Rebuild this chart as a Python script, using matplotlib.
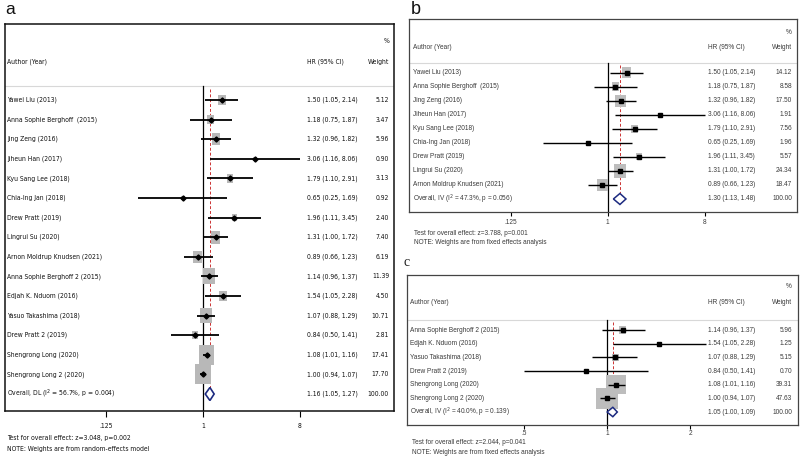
import matplotlib
matplotlib.use('Agg')
import matplotlib.pyplot as plt
import numpy as np
from matplotlib import font_manager as fm
from matplotlib.font_manager import FontProperties
from matplotlib.patches import Rectangle, Polygon
from matplotlib.transforms import blended_transform_factory
from matplotlib.ticker import NullLocator, FixedLocator, FixedFormatter

# ---------------- data ----------------
authors_a = ["Yawei Liu (2013)", "Anna Sophie Berghoff  (2015)", "Jing Zeng (2016)",
             "Jiheun Han (2017)", "Kyu Sang Lee (2018)", "Chia-Ing Jan (2018)",
             "Drew Pratt (2019)", "Lingrui Su (2020)", "Arnon Moldrup Knudsen (2021)",
             "Anna Sophie Berghoff 2 (2015)", "Edjah K. Nduom (2016)", "Yasuo Takashima (2018)",
             "Drew Pratt 2 (2019)", "Shengrong Long (2020)", "Shengrong Long 2 (2020)"]
hr_a = [1.50, 1.18, 1.32, 3.06, 1.79, 0.65, 1.96, 1.31, 0.89, 1.14, 1.54, 1.07, 0.84, 1.08, 1.00]
lo_a = [1.05, 0.75, 0.96, 1.16, 1.10, 0.25, 1.11, 1.00, 0.66, 0.96, 1.05, 0.88, 0.50, 1.01, 0.94]
hi_a = [2.14, 1.87, 1.82, 8.06, 2.91, 1.69, 3.45, 1.72, 1.23, 1.37, 2.28, 1.29, 1.41, 1.16, 1.07]
wt_a = [5.12, 3.47, 5.96, 0.90, 3.13, 0.92, 2.40, 7.40, 6.19, 11.39, 4.50, 10.71, 2.81, 17.41, 17.70]
overall_a = (1.16, 1.05, 1.27)
overall_label_a = "Overall, DL (I$^2$ = 56.7%, p = 0.004)"
test_a = "Test for overall effect: z=3.048, p=0.002"
note_a = "NOTE: Weights are from random-effects model"

authors_b = authors_a[:9]
hr_b = hr_a[:9]
lo_b = lo_a[:9]
hi_b = hi_a[:9]
wt_b = [14.12, 8.58, 17.50, 1.91, 7.56, 1.96, 5.57, 24.34, 18.47]
overall_b = (1.30, 1.13, 1.48)
overall_label_b = "Overall, IV (I$^2$ = 47.3%, p = 0.056)"
test_b = "Test for overall effect: z=3.788, p=0.001"
note_b = "NOTE: Weights are from fixed effects analysis"

authors_c = authors_a[9:]
hr_c = hr_a[9:]
lo_c = lo_a[9:]
hi_c = hi_a[9:]
wt_c = [5.96, 1.25, 5.15, 0.70, 39.31, 47.63]
overall_c = (1.05, 1.00, 1.09)
overall_label_c = "Overall, IV (I$^2$ = 40.0%, p = 0.139)"
test_c = "Test for overall effect: z=2.044, p=0.041"
note_c = "NOTE: Weights are from fixed effects analysis"

ticks_ab = [0.125, 1, 8]
ticklabels_ab = [".125", "1", "8"]
ticks_c = [0.5, 1, 2]
ticklabels_c = [".5", "1", "2"]

# ---------------- layout ----------------
W, H = 800, 459
fig = plt.figure(figsize=(W / 100, H / 100), dpi=100)
fig.patch.set_facecolor('white')
renderer = fig.canvas.get_renderer()


def find_narrow():
    prefs = ['liberation sans narrow', 'arial narrow', 'dejavu sans condensed',
             'dejavusanscondensed', 'notosans-condensed', 'noto sans condensed',
             'opensans-condensed', 'open sans condensed', 'roboto condensed',
             'robotocondensed', 'narrow', 'condensed']
    cands = []
    for f in fm.fontManager.ttflist:
        key = (f.name + ' ' + f.fname.split('/')[-1]).lower()
        if f.style != 'normal':
            continue
        for rank, p in enumerate(prefs):
            if p in key and not any(b in key for b in
                                    ('bold', 'italic', 'semi', 'extra', 'light',
                                     'medium', 'black', 'thin')):
                cands.append((rank, f.fname))
                break
    if cands:
        cands.sort()
        return FontProperties(fname=cands[0][1])
    return FontProperties(family=['Liberation Sans', 'DejaVu Sans'])


def fit_size(fp, sample, target_px):
    p = fp.copy()
    p.set_size(10)
    t = fig.text(0, 0, sample, fontproperties=p)
    wpx = t.get_window_extent(renderer).width
    t.remove()
    return 10 * target_px / wpx


SAMPLE = "Anna Sophie Berghoff  (2015)"
fp_a = find_narrow()
fp_a.set_size(min(6.6, fit_size(fp_a, SAMPLE, 91)))
fp_b = FontProperties(family=['Liberation Sans', 'DejaVu Sans'])
fp_b.set_size(fit_size(fp_b, SAMPLE, 87))

LA = dict(box=(5, 24, 394, 411), x1=203, ppd=32.3, row0=100, sp=19.6,
          hdr=62, pct=41, sep=86, ax=7, hx=307, wx=389,
          fp=fp_a, tc='#111111', kw=3.6, kh=4.8, lw=1.3,
          mk='D', ms=2.6, dh=6.5, dlw=1.2, frame='#111111', flw=1.1,
          tl=4.5, tp=4.5, tx=7, ty1=438, ty2=449, grey='#b8b8b8')
LB = dict(box=(409, 19, 797, 212), x1=607.7, ppd=32.3, row0=72.7, sp=14.03,
          hdr=47, pct=32, sep=63, ax=413, hx=708, wx=792,
          fp=fp_b, tc='#3a3a3a', kw=2.5, kh=2.9, lw=1.0,
          mk='s', ms=2.2, dh=5.5, dlw=1.1, frame='#444444', flw=0.9,
          tl=3.2, tp=1.5, tx=414, ty1=234, ty2=243, grey='#bdbdbd')
LC = dict(box=(407, 275, 798, 425), x1=607, ppd=83, row0=330, sp=13.67,
          hdr=302, pct=287, sep=320, ax=410, hx=708, wx=792,
          fp=fp_b, tc='#3a3a3a', kw=3.1, kh=3.1, lw=1.0,
          mk='s', ms=2.2, dh=4.7, dlw=1.1, frame='#444444', flw=0.9,
          tl=3.0, tp=0.3, tx=412, ty1=443, ty2=452, grey='#bdbdbd')


def panel(L, authors, hr, lo, hi, wt, ovr, ovlabel, ticks, ticklabels, test, note):
    left, top, right, bottom = L['box']
    ax = fig.add_axes([left / W, 1 - bottom / H, (right - left) / W, (bottom - top) / H])
    ax.set_xscale('log', base=2)
    x1, ppd = L['x1'], L['ppd']
    ax.set_xlim(2 ** ((left - x1) / ppd), 2 ** ((right - x1) / ppd))
    r0, sp = L['row0'], L['sp']

    def yrow(py):
        return (py - r0) / sp

    yb, yt = yrow(bottom), yrow(top)
    ax.set_ylim(yb, yt)
    tb = blended_transform_factory(ax.transAxes, ax.transData)

    def xf(px):
        return (px - left) / (right - left)

    fp = dict(fontproperties=L['fp'], color=L['tc'])
    n = len(authors)

    ax.axhline(yrow(L['sep']), color='#d8d8d8', lw=0.8, zorder=1)
    ax.plot([1, 1], [yrow(L['sep']), yb], color='black', lw=0.9, zorder=2)
    ax.plot([ovr[0]] * 2, [-0.55, n - L['dh'] / sp], color='#cc3333', lw=0.7,
            ls=(0, (3, 2)), zorder=1.5)

    for i in range(n):
        sw = L['kw'] * np.sqrt(wt[i])
        sh = L['kh'] * np.sqrt(wt[i])
        dx = sw / 2 / ppd
        x0 = hr[i] * 2 ** (-dx)
        x2 = hr[i] * 2 ** dx
        ax.add_patch(Rectangle((x0, i - sh / 2 / sp), x2 - x0, sh / sp,
                               fc=L['grey'], ec='none', zorder=2))
        ax.plot([lo[i], hi[i]], [i, i], color='black', lw=L['lw'], zorder=3,
                solid_capstyle='butt')
        ax.plot(hr[i], i, marker=L['mk'], ms=L['ms'], color='black', mec='black', zorder=4)
        ax.text(xf(L['ax']), i, authors[i], transform=tb, ha='left', va='center', **fp)
        ax.text(xf(L['hx']), i, f"{hr[i]:.2f} ({lo[i]:.2f}, {hi[i]:.2f})", transform=tb,
                ha='left', va='center', **fp)
        ax.text(xf(L['wx']), i, f"{wt[i]:.2f}", transform=tb, ha='right', va='center', **fp)

    m, l, h = ovr
    dh = L['dh'] / sp
    ax.add_patch(Polygon([(l, n), (m, n - dh), (h, n), (m, n + dh)], closed=True,
                         fc='white', ec='#1c2a80', lw=L['dlw'], zorder=4))
    ax.text(xf(L['ax']), n, ovlabel, transform=tb, ha='left', va='center', **fp)
    ax.text(xf(L['hx']), n, f"{m:.2f} ({l:.2f}, {h:.2f})", transform=tb,
            ha='left', va='center', **fp)
    ax.text(xf(L['wx']), n, "100.00", transform=tb, ha='right', va='center', **fp)

    ax.text(xf(L['ax']), yrow(L['hdr']), "Author (Year)", transform=tb, ha='left', va='center', **fp)
    ax.text(xf(L['hx']), yrow(L['hdr']), "HR (95% CI)", transform=tb, ha='left', va='center', **fp)
    ax.text(xf(L['wx']), yrow(L['hdr']), "Weight", transform=tb, ha='right', va='center', **fp)
    ax.text(xf(L['wx']), yrow(L['pct']), "%", transform=tb, ha='right', va='center', **fp)

    ax.xaxis.set_major_locator(FixedLocator(ticks))
    ax.xaxis.set_major_formatter(FixedFormatter(ticklabels))
    ax.xaxis.set_minor_locator(NullLocator())
    ax.set_yticks([])
    ax.tick_params(axis='x', direction='out', length=L['tl'], width=0.8, pad=L['tp'],
                   labelcolor=L['tc'])
    for lb in ax.get_xticklabels():
        lb.set_fontproperties(L['fp'])
    for s in ax.spines.values():
        s.set_color(L['frame'])
        s.set_linewidth(L['flw'])

    fig.text(L['tx'] / W, 1 - L['ty1'] / H, test, ha='left', va='center', **fp)
    fig.text(L['tx'] / W, 1 - L['ty2'] / H, note, ha='left', va='center', **fp)
    return ax


panel(LA, authors_a, hr_a, lo_a, hi_a, wt_a, overall_a, overall_label_a,
      ticks_ab, ticklabels_ab, test_a, note_a)
panel(LB, authors_b, hr_b, lo_b, hi_b, wt_b, overall_b, overall_label_b,
      ticks_ab, ticklabels_ab, test_b, note_b)
panel(LC, authors_c, hr_c, lo_c, hi_c, wt_c, overall_c, overall_label_c,
      ticks_c, ticklabels_c, test_c, note_c)

fig.text(5 / W, 1 - 9 / H, "a", ha='left', va='center', family=['Liberation Sans', 'DejaVu Sans'],
         size=12.5, color='#111111')
fig.text(411 / W, 1 - 9 / H, "b", ha='left', va='center', family=['Liberation Sans', 'DejaVu Sans'],
         size=13, color='#111111')
fig.text(404 / W, 1 - 263 / H, "c", ha='left', va='center', family=['Liberation Serif', 'DejaVu Serif'],
         size=10, color='#222222')

fig.savefig('out.png', dpi=100)
